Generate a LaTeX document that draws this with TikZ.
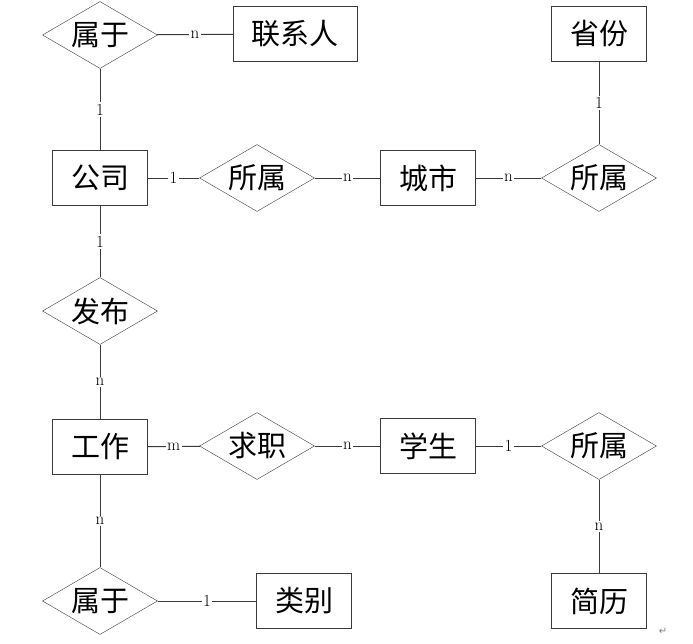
\documentclass[tikz,border=0pt]{standalone}
\usepackage{fontspec}
\usepackage{tikz}
\usetikzlibrary{shapes.geometric, positioning}
\newfontfamily\cjk{Noto Sans CJK SC}
\newfontfamily\symfont{DejaVu Sans}
\definecolor{erline}{HTML}{3A3A3A}
\tikzset{
  entity/.style={draw=erline, rectangle, minimum width=95pt, minimum height=55pt,
                 inner sep=0pt, font=\cjk\fontsize{29}{32}\selectfont},
  relation/.style={draw=erline, diamond, aspect=1.7, minimum width=115pt,
                   minimum height=67pt, inner sep=0pt, font=\cjk\fontsize{29}{32}\selectfont},
  conn/.style={draw=erline, line width=1pt},
  card/.style={fill=white, inner sep=1.5pt, font=\fontsize{17}{19}\selectfont},
}
\begin{document}
\begin{tikzpicture}[x=1pt, y=-1pt]
  \useasboundingbox (0,0) rectangle (693,643);

  %% top row
  \node[relation] (belong1) at (100,35) {属于};
  \node[entity, minimum width=124pt] (contact) at (295,34) {联系人};
  \node[entity] (province) at (599,34) {省份};

  %% company row
  \node[entity] (company) at (100,178) {公司};
  \node[relation] (locate1) at (257,178) {所属};
  \node[entity] (city) at (428,178) {城市};
  \node[relation] (locate2) at (599,178) {所属};

  %% publish
  \node[relation] (publish) at (100,311) {发布};

  %% job row
  \node[entity] (job) at (100,447) {工作};
  \node[relation] (apply) at (257,446) {求职};
  \node[entity] (student) at (428,446) {学生};
  \node[relation] (locate3) at (599,446) {所属};

  %% bottom row
  \node[relation] (belong2) at (100,601) {属于};
  \node[entity] (category) at (304,601) {类别};
  \node[entity] (resume) at (599,601) {简历};

  %% connectors
  \draw[conn] (belong1) -- node[card]{n} (contact);
  \draw[conn] (belong1) -- node[card]{1} (company);
  \draw[conn] (company) -- node[card]{1} (locate1);
  \draw[conn] (locate1) -- node[card]{n} (city);
  \draw[conn] (city) -- node[card]{n} (locate2);
  \draw[conn] (province) -- node[card]{1} (locate2);
  \draw[conn] (company) -- node[card]{1} (publish);
  \draw[conn] (publish) -- node[card]{n} (job);
  \draw[conn] (job) -- node[card]{m} (apply);
  \draw[conn] (apply) -- node[card]{n} (student);
  \draw[conn] (student) -- node[card]{1} (locate3);
  \draw[conn] (locate3) -- node[card]{n} (resume);
  \draw[conn] (job) -- node[card]{n} (belong2);
  \draw[conn] (belong2) -- node[card]{1} (category);

  \node[text=gray, font=\symfont\fontsize{10}{11}\selectfont] (mark) at (663,631) {↵};

\end{tikzpicture}
\end{document}
